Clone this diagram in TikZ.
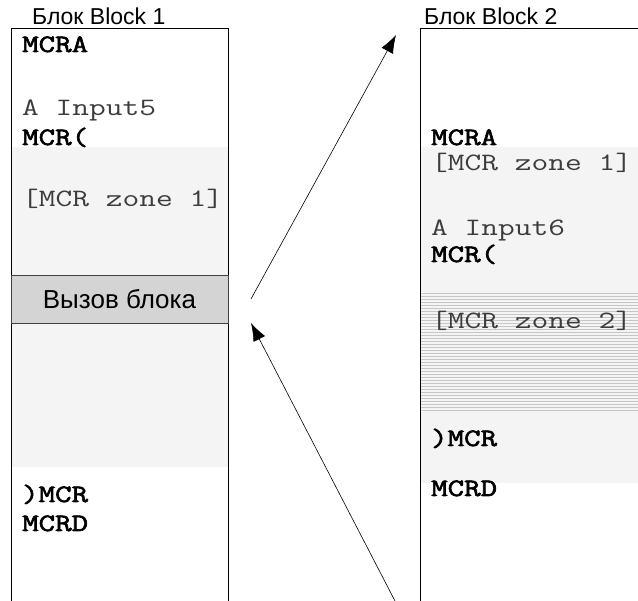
\documentclass[tikz,border=0pt]{standalone}
\usepackage{fontspec}
\setmainfont{Liberation Sans}
\newfontfamily\codefont[FakeStretch=1.3]{Latin Modern Mono}
\newfontfamily\kwfont[FakeStretch=1.28,FakeBold=2.5]{Latin Modern Mono}
\usetikzlibrary{arrows.meta,positioning}
\definecolor{zonegray}{HTML}{F4F4F4}
\definecolor{callgray}{HTML}{D4D4D4}
\definecolor{codegray}{HTML}{3C3C3C}
\definecolor{stripegray}{HTML}{C6C6C6}
\tikzset{%
	blocktitle/.style = {anchor=base west, inner sep=0pt, font=\fontsize{23}{23}\selectfont},
	code/.style       = {anchor=base west, inner sep=0pt, text=codegray, font=\codefont\fontsize{25}{25}\selectfont},
	kw/.style         = {anchor=base west, inner sep=0pt, font=\kwfont\fontsize{25}{25}\selectfont},
	callbox/.style    = {draw=black!75, fill=callgray, minimum width=217pt, minimum height=48pt, inner sep=0pt, font=\fontsize{26}{26}\selectfont},
	arrow/.style      = {semithick, -{Latex[length=18pt,width=13pt]}},
}

\begin{document}
\begin{tikzpicture}[x=1pt,y=-1pt]
	\useasboundingbox (0,0) rectangle (638,601);
	
	% block 1
	\fill[zonegray] (11,147) rectangle (228,467);
	\draw (11,601) -- (11,28) -- (228,28) -- (228,601);
	\node[blocktitle] (title1) at (32,25) {Блок Block 1};
	\node[kw]   (mcra1)  at (22,52)  {MCRA};
	\node[code] (input5) at (22,116) {A Input5};
	\node[kw]   (open1)  at (22,145) {MCR(};
	\node[code] (zone1a) at (22,207) {[MCR zone 1]};
	\node[callbox] (call) at (119.5,299) {Вызов блока};
	\node[kw]   (close1) at (22,502) {)MCR};
	\node[kw]   (mcrd1)  at (22,531) {MCRD};
	
	% block 2
	\fill[zonegray] (420,147) rectangle (638,483);
	\foreach \yy in {293,296,...,410}
		\draw[stripegray, line width=0.6pt] (420,\yy) -- (638,\yy);
	\draw (420,601) -- (420,28) -- (638,28);
	\node[blocktitle] (title2) at (424,25) {Блок Block 2};
	\node[kw]   (mcra2)  at (431,145) {MCRA};
	\node[code] (zone1b) at (431,171) {[MCR zone 1]};
	\node[code] (input6) at (431,236) {A Input6};
	\node[kw]   (open2)  at (431,262) {MCR(};
	\node[code] (zone2)  at (431,329) {[MCR zone 2]};
	\node[kw]   (close2) at (431,446) {)MCR};
	\node[kw]   (mcrd2)  at (431,496) {MCRD};
	
	% call and return
	\coordinate (callout) at (251,299);
	\coordinate (entry) at (396,35);
	\coordinate (exit) at (395,601);
	\coordinate (back) at (251,323);
	\draw[arrow] (callout) -- (entry);
	\draw[arrow] (exit) -- (back);
\end{tikzpicture}
\end{document}
